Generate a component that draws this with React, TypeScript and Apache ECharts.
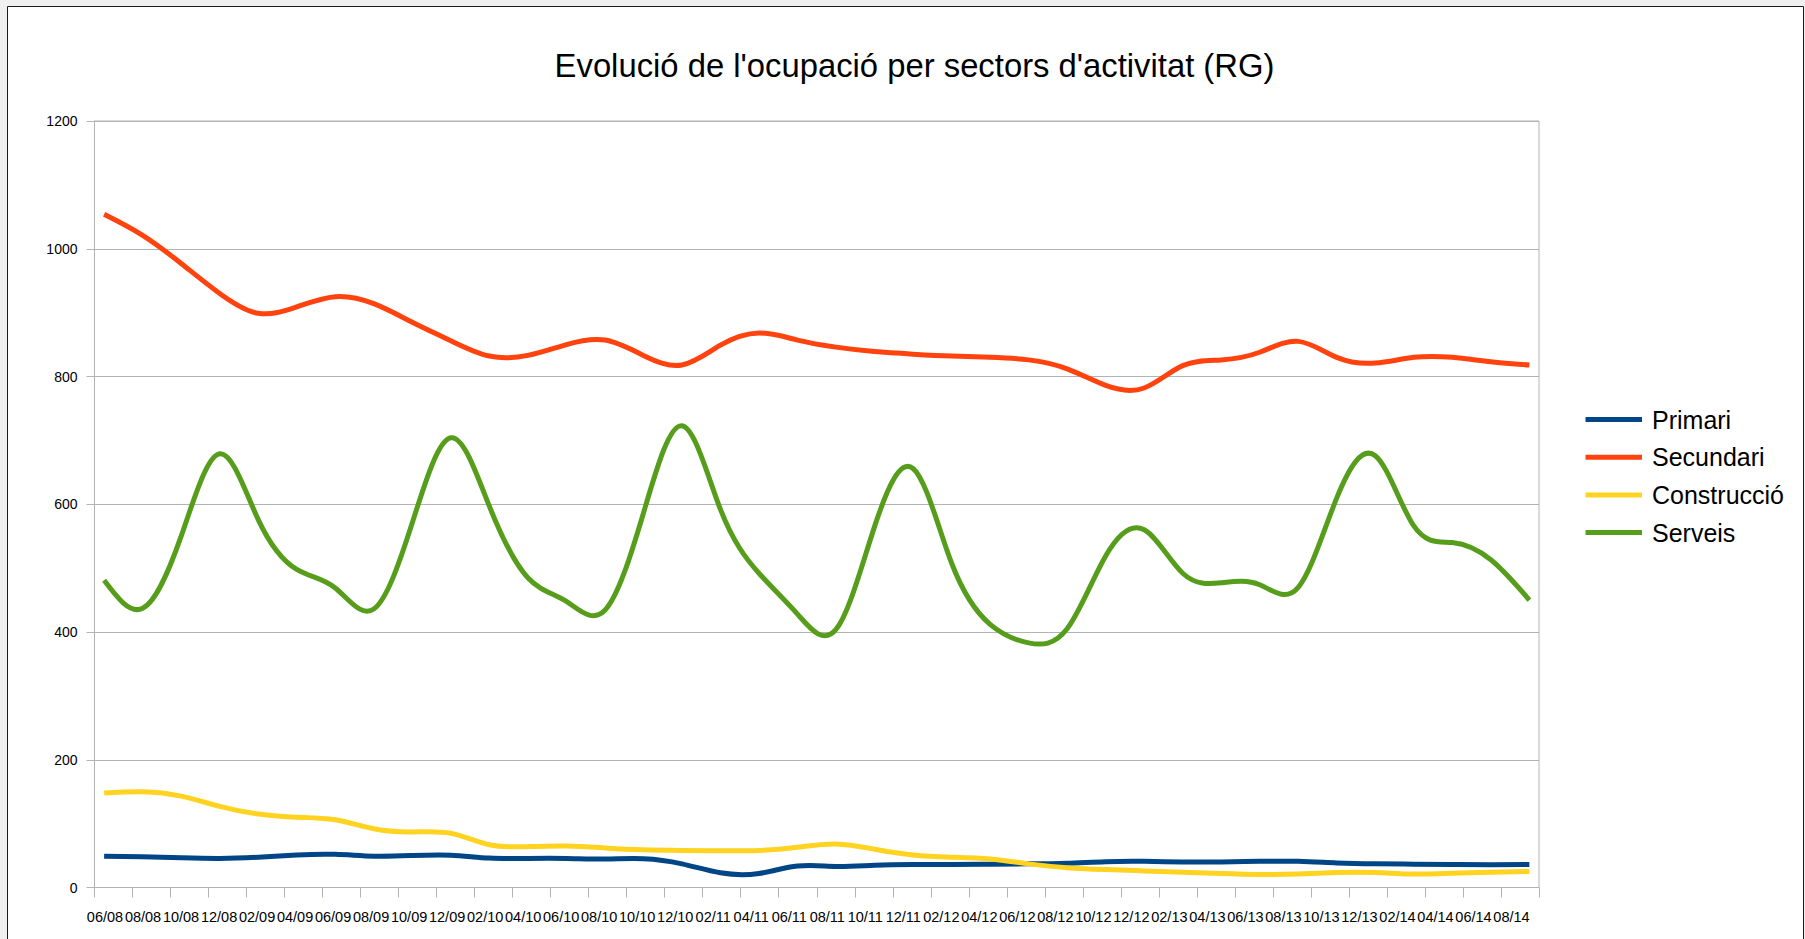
import React, { useEffect, useRef } from 'react';
import * as echarts from 'echarts';

const categories = ['06/08', '08/08', '10/08', '12/08', '02/09', '04/09', '06/09', '08/09', '10/09', '12/09', '02/10', '04/10', '06/10', '08/10', '10/10', '12/10', '02/11', '04/11', '06/11', '08/11', '10/11', '12/11', '02/12', '04/12', '06/12', '08/12', '10/12', '12/12', '02/13', '04/13', '06/13', '08/13', '10/13', '12/13', '02/14', '04/14', '06/14', '08/14'];

const primari = [49, 48, 46.5, 45.5, 47.5, 51, 52, 49, 50, 50.5, 46, 45.5, 45.5, 44.5, 45, 37, 23, 22, 33.5, 33, 35, 36, 36, 36.5, 37, 38, 40.5, 41, 40, 40, 41, 41, 38.5, 37, 36.5, 36, 35.5, 36];
const secundari = [1054, 1021, 977, 930, 899, 909, 925, 914, 885, 856, 832, 833, 850, 857, 833, 818, 849, 868, 857, 846, 839, 835, 832, 830, 826, 812, 786, 782, 817, 826, 838, 855, 830, 821, 830, 830, 823, 818];
const construccio = [148, 150, 143, 127, 115, 110, 106, 92, 87, 85, 67, 64, 65, 62, 59, 58, 57.5, 58, 63, 68, 60, 51, 47.5, 44.5, 37, 31, 28, 26, 24, 22, 20.5, 21, 23.5, 23.5, 21, 22.5, 24, 25];
const serveis = [481, 437, 550, 679, 576, 498, 469, 436, 571, 704, 597, 485, 448, 434, 586, 723, 592, 492, 428, 404, 565, 656, 508, 412, 383, 405, 519, 560, 492, 477, 474, 470, 610, 676, 566, 540, 513, 450];

const yTicks = { min: 0, max: 1200, interval: 200 };

const seriesDefs = [
  { name: 'Primari', data: primari, color: '#004586' },
  { name: 'Secundari', data: secundari, color: '#ff420e' },
  { name: 'Construcció', data: construccio, color: '#ffd320' },
  { name: 'Serveis', data: serveis, color: '#579d1c' },
];

const FONT = "'Liberation Sans', Arial, sans-serif";

// Natural cubic spline through pixel points, returned as SVG path data.
function splinePath(pts: number[][]): string {
  const n = pts.length;
  const x = pts.map((p) => p[0]);
  const y = pts.map((p) => p[1]);
  const h: number[] = [];
  for (let i = 0; i < n - 1; i++) h.push(x[i + 1] - x[i]);
  const M = new Array(n).fill(0);
  if (n > 2) {
    const a: number[] = [], b: number[] = [], c: number[] = [], d: number[] = [];
    for (let i = 1; i < n - 1; i++) {
      a.push(h[i - 1]);
      b.push(2 * (h[i - 1] + h[i]));
      c.push(h[i]);
      d.push(6 * ((y[i + 1] - y[i]) / h[i] - (y[i] - y[i - 1]) / h[i - 1]));
    }
    const m = b.length;
    for (let i = 1; i < m; i++) {
      const w = a[i] / b[i - 1];
      b[i] -= w * c[i - 1];
      d[i] -= w * d[i - 1];
    }
    const sol = new Array(m).fill(0);
    sol[m - 1] = d[m - 1] / b[m - 1];
    for (let i = m - 2; i >= 0; i--) sol[i] = (d[i] - c[i] * sol[i + 1]) / b[i];
    for (let i = 0; i < m; i++) M[i + 1] = sol[i];
  }
  let path = `M${x[0]},${y[0]}`;
  for (let i = 0; i < n - 1; i++) {
    const hi = h[i];
    const s = (y[i + 1] - y[i]) / hi;
    const m0 = s - (hi * (2 * M[i] + M[i + 1])) / 6;
    const m1 = s + (hi * (M[i] + 2 * M[i + 1])) / 6;
    const c1x = x[i] + hi / 3;
    const c1y = y[i] + (m0 * hi) / 3;
    const c2x = x[i + 1] - hi / 3;
    const c2y = y[i + 1] - (m1 * hi) / 3;
    path += ` C${c1x},${c1y} ${c2x},${c2y} ${x[i + 1]},${y[i + 1]}`;
  }
  return path;
}

export default function App() {
  const ref = useRef<HTMLDivElement>(null);
  useEffect(() => {
    if (!ref.current) return;
    const chart = echarts.init(ref.current, undefined, { renderer: 'svg' });
    chart.setOption({
      animation: false,
      backgroundColor: '#f0f0f0',
      color: seriesDefs.map((s) => s.color),
      textStyle: { fontFamily: FONT },
      graphic: [
        {
          type: 'rect',
          z: -10,
          shape: { x: 7.5, y: 6.5, width: 1796, height: 1000 },
          style: { fill: '#ffffff', stroke: '#1a1a1a', lineWidth: 1 },
        },
        {
          type: 'text',
          x: 914.5,
          y: 65.5,
          style: {
            text: "Evolució de l'ocupació per sectors d'activitat (RG)",
            fontSize: 32.8,
            fontFamily: FONT,
            fill: '#000000',
            textAlign: 'center',
            textVerticalAlign: 'middle',
            align: 'center',
            verticalAlign: 'middle',
          },
        },
      ],
      grid: {
        left: 94.5,
        top: 121,
        width: 1444.5,
        height: 766.5,
        show: true,
        borderColor: '#b3b3b3',
        borderWidth: 1,
        containLabel: false,
      },
      legend: {
        orient: 'vertical',
        left: 1580.5,
        top: 399.5,
        icon: 'rect',
        itemWidth: 56.5,
        itemHeight: 5,
        itemGap: 7.7,
        textStyle: {
          fontSize: 25,
          lineHeight: 30,
          color: '#000000',
          fontFamily: FONT,
          padding: [0, 0, 0, 5],
        },
        data: seriesDefs.map((s) => s.name),
      },
      xAxis: [
        {
          type: 'category',
          data: categories,
          boundaryGap: true,
          axisLine: { lineStyle: { color: '#b3b3b3', width: 1 } },
          axisTick: { show: true, length: 10, interval: 0, lineStyle: { color: '#b3b3b3' } },
          axisLabel: {
            interval: 0,
            fontSize: 14.5,
            color: '#000000',
            margin: 22,
            padding: [0, 17, 0, 0],
            fontFamily: FONT,
            hideOverlap: false,
          },
          splitLine: { show: false },
        },
        {
          type: 'value',
          min: -0.25,
          max: 37.25,
          show: false,
        },
      ],
      yAxis: {
        type: 'value',
        min: yTicks.min,
        max: yTicks.max,
        interval: yTicks.interval,
        axisLine: { show: true, onZero: false, lineStyle: { color: '#b3b3b3', width: 1 } },
        axisTick: { show: true, length: 8, lineStyle: { color: '#b3b3b3' } },
        axisLabel: {
          fontSize: 14,
          color: '#000000',
          margin: 17,
          fontFamily: FONT,
          formatter: (v: number) => String(v),
        },
        splitLine: { show: true, lineStyle: { color: '#b3b3b3', width: 1 } },
      },
      series: seriesDefs.map((s) => ({
        name: s.name,
        type: 'custom',
        coordinateSystem: 'cartesian2d',
        xAxisIndex: 1,
        yAxisIndex: 0,
        itemStyle: { color: s.color },
        encode: { x: 0, y: 1 },
        data: s.data.map((v, i) => [i, v]),
        renderItem: (params: any, api: any) => {
          if (params.dataIndex !== 0) return null;
          const pts = s.data.map((v, i) => api.coord([i, v]));
          return {
            type: 'path',
            shape: { pathData: splinePath(pts) },
            style: { stroke: s.color, lineWidth: 5, fill: 'none', lineCap: 'butt', lineJoin: 'round' },
          };
        },
      })),
    });
    return () => chart.dispose();
  }, []);
  return (
    <div
      ref={ref}
      style={{ position: 'fixed', left: 0, top: 0, width: 1805, height: 939 }}
    />
  );
}
